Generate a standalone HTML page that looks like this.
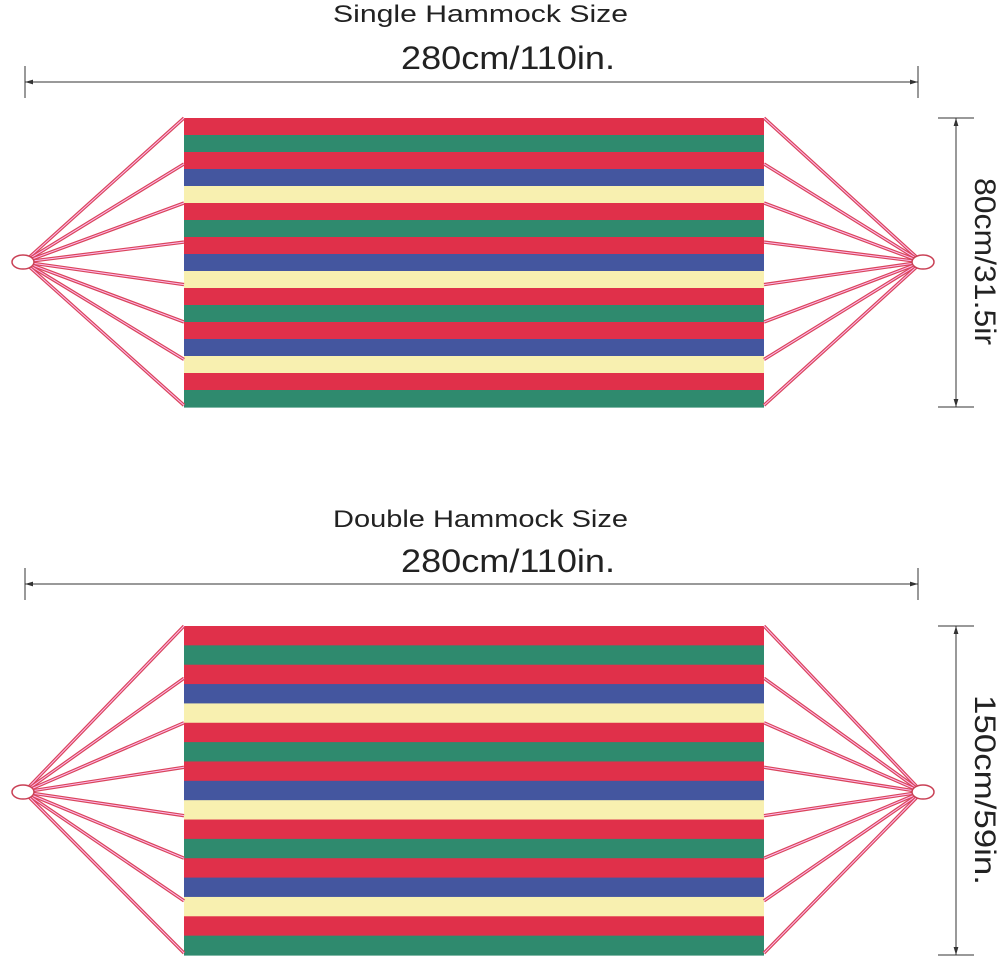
<!DOCTYPE html>
<html><head><style>
body{margin:0;background:#fff;}
svg text{font-family:"Liberation Sans",sans-serif;fill:#222;}
</style></head><body>
<svg width="1000" height="961" viewBox="0 0 1000 961" xmlns="http://www.w3.org/2000/svg">
<defs>
<marker id="a" viewBox="0 0 10 10" refX="10" refY="5" markerWidth="8" markerHeight="8" orient="auto-start-reverse"><path d="M0,2 L10,5 L0,8 z" fill="#333"/></marker>
</defs>
<!-- Single -->
<text x="333" y="22" font-size="24" textLength="295" lengthAdjust="spacingAndGlyphs">Single Hammock Size</text>
<text x="401" y="69" font-size="32" textLength="214" lengthAdjust="spacingAndGlyphs">280cm/110in.</text>
<line x1="25" y1="82" x2="918" y2="82" stroke="#333" stroke-width="1" marker-start="url(#a)" marker-end="url(#a)"/>
<line x1="25" y1="66" x2="25" y2="98" stroke="#333"/>
<line x1="918" y1="66" x2="918" y2="98" stroke="#333"/>
<line x1="956" y1="118" x2="956" y2="407" stroke="#333" marker-start="url(#a)" marker-end="url(#a)"/>
<line x1="938" y1="118" x2="974" y2="118" stroke="#333"/>
<line x1="938" y1="407" x2="974" y2="407" stroke="#333"/>
<text transform="translate(975,178) rotate(90)" font-size="30" textLength="167" lengthAdjust="spacingAndGlyphs">80cm/31.5ir</text>
<g id="s1"></g>
<!-- Double -->
<text x="333" y="527" font-size="24" textLength="295" lengthAdjust="spacingAndGlyphs">Double Hammock Size</text>
<text x="401" y="572" font-size="32" textLength="214" lengthAdjust="spacingAndGlyphs">280cm/110in.</text>
<line x1="25" y1="584" x2="918" y2="584" stroke="#333" marker-start="url(#a)" marker-end="url(#a)"/>
<line x1="25" y1="568" x2="25" y2="600" stroke="#333"/>
<line x1="918" y1="568" x2="918" y2="600" stroke="#333"/>
<line x1="956" y1="626" x2="956" y2="955" stroke="#333" marker-start="url(#a)" marker-end="url(#a)"/>
<line x1="938" y1="626" x2="974" y2="626" stroke="#333"/>
<line x1="938" y1="955" x2="974" y2="955" stroke="#333"/>
<text transform="translate(975,695) rotate(90)" font-size="30" textLength="190" lengthAdjust="spacingAndGlyphs">150cm/59in.</text>
<g id="s2"></g>
</svg>
<script>
const C={R:"#e0304a",G:"#2f8a6e",B:"#44569f",Y:"#f8f0b0"};
const pat="RGRBYRGRBYRGRBYRG";
function ham(id,top,bot,cy){
  const g=document.getElementById(id);
  const h=(bot-top)/17;let s="";
  for(let i=0;i<17;i++){s+=`<rect x="184" y="${(top+i*h).toFixed(2)}" width="580" height="${(h+0.6).toFixed(2)}" fill="${C[pat[i]]}"/>`;}
  const ends=[0,2.7,5,7.3,9.8,12,14.2,16.9].map(k=>top+k*h);
  for(const y of ends){
    s+=`<line x1="24" y1="${cy}" x2="184" y2="${y}" stroke="#d9455a" stroke-width="3.4"/><line x1="24" y1="${cy}" x2="184" y2="${y}" stroke="#fbe" stroke-width="1"/>`;
    s+=`<line x1="922" y1="${cy}" x2="764" y2="${y}" stroke="#d9455a" stroke-width="3.4"/><line x1="922" y1="${cy}" x2="764" y2="${y}" stroke="#fbe" stroke-width="1"/>`;
  }
  s+=`<ellipse cx="23" cy="${cy}" rx="11" ry="7" fill="#fff" stroke="#c94055" stroke-width="1.5"/>`;
  s+=`<ellipse cx="923" cy="${cy}" rx="11" ry="7" fill="#fff" stroke="#c94055" stroke-width="1.5"/>`;
  g.innerHTML=s;
}
ham("s1",118,407,262);
ham("s2",626,955,792);
</script>
</body></html>
